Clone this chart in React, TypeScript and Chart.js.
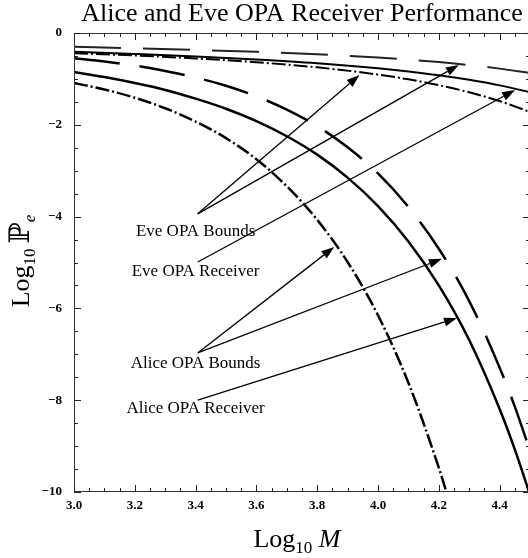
import React, { useEffect, useRef } from "react";
import { Chart, registerables } from "chart.js";

Chart.register(...registerables);

// ---------- text ----------
const titleText = "Alice and Eve OPA Receiver Performance";
const annotationLabels = ["Eve OPA Bounds", "Eve OPA Receiver", "Alice OPA Bounds", "Alice OPA Receiver"];

// ---------- ticks ----------
const xTicks = [3.0, 3.2, 3.4, 3.6, 3.8, 4.0, 4.2, 4.4];
const xMinorTicks = [3.05, 3.1, 3.15, 3.25, 3.3, 3.35, 3.45, 3.5, 3.55, 3.65, 3.7, 3.75, 3.85, 3.9, 3.95, 4.05, 4.1, 4.15, 4.25, 4.3, 4.35, 4.45];
const yTicks = [0, -2, -4, -6, -8, -10];
const yMinorTicks = [-0.5, -1, -1.5, -2.5, -3, -3.5, -4.5, -5, -5.5, -6.5, -7, -7.5, -8.5, -9, -9.5];

// ---------- series (Log10 M, Log10 Pe) ----------
// Eve OPA bounds (upper, dashed)
const eveBoundUpperX = [3.0, 3.2, 3.4, 3.6, 3.8, 4.0, 4.2, 4.3, 4.4, 4.5];
const eveBoundUpperY = [-0.3, -0.332, -0.368, -0.411, -0.465, -0.536, -0.634, -0.698, -0.776, -0.87];
// Eve OPA receiver (solid)
const eveReceiverX = [3.0, 3.2, 3.4, 3.6, 3.8, 4.0, 4.1, 4.2, 4.3, 4.4, 4.5];
const eveReceiverY = [-0.41, -0.457, -0.51, -0.576, -0.658, -0.767, -0.837, -0.92, -1.02, -1.141, -1.29];
// Eve OPA bounds (lower, dash-dot)
const eveBoundLowerX = [3.0, 3.2, 3.4, 3.6, 3.8, 4.0, 4.1, 4.2, 4.3, 4.4, 4.5];
const eveBoundLowerY = [-0.44, -0.49, -0.555, -0.637, -0.748, -0.906, -1.01, -1.137, -1.292, -1.483, -1.72];
// Alice OPA bounds (upper, long dashes)
const aliceBoundUpperX = [3.0, 3.1, 3.2, 3.3, 3.4, 3.5, 3.6, 3.7, 3.8, 3.9, 4.0, 4.1, 4.2, 4.3, 4.4, 4.45, 4.5];
const aliceBoundUpperY = [-0.55, -0.62, -0.71, -0.83, -0.97, -1.15, -1.38, -1.67, -2.03, -2.49, -3.06, -3.79, -4.7, -5.84, -7.29, -8.14, -9.1];
// Alice OPA receiver (solid)
const aliceReceiverX = [3.0, 3.1, 3.2, 3.3, 3.4, 3.5, 3.6, 3.7, 3.8, 3.9, 4.0, 4.1, 4.2, 4.3, 4.4, 4.45, 4.497];
const aliceReceiverY = [-0.85, -0.96, -1.09, -1.24, -1.43, -1.65, -1.92, -2.25, -2.65, -3.15, -3.77, -4.54, -5.5, -6.69, -8.19, -9.07, -10];
// Alice OPA bounds (lower, dash-dot)
const aliceBoundLowerX = [3.0, 3.1, 3.2, 3.3, 3.4, 3.5, 3.6, 3.7, 3.8, 3.9, 4.0, 4.1, 4.2, 4.225];
const aliceBoundLowerY = [-1.09, -1.23, -1.41, -1.64, -1.93, -2.29, -2.75, -3.34, -4.07, -4.99, -6.15, -7.62, -9.47, -10];

// ---------- annotations (data coordinates) ----------
const labelX = [3.4, 3.4, 3.4, 3.4];
const labelY = [-4.42, -5.29, -7.3, -8.28];
const arrowFromX = [3.407, 3.407, 3.407, 3.407, 3.407, 3.407];
const arrowFromY = [-3.94, -3.94, -4.99, -6.97, -6.97, -8.0];
const arrowToX = [3.939, 4.266, 4.451, 3.856, 4.21, 4.26];
const arrowToY = [-0.915, -0.697, -1.242, -4.66, -4.92, -6.21];

const SERIF = "'Liberation Serif', 'Times New Roman', 'DejaVu Serif', serif";

function pts(xs: number[], ys: number[]) {
  return xs.map((x, i) => ({ x, y: ys[i] }));
}

const decorPlugin = {
  id: "decor",
  afterDraw(chart: any) {
    const { ctx, chartArea: a, scales } = chart;
    const xs = scales.x;
    const ys = scales.y;
    ctx.save();

    // frame
    ctx.strokeStyle = "#333";
    ctx.lineWidth = 1;
    ctx.strokeRect(a.left + 0.5, a.top + 0.5, a.right - a.left - 1, a.bottom - a.top - 1);

    // ticks (inward on all sides)
    ctx.strokeStyle = "#222";
    ctx.lineWidth = 1;
    ctx.beginPath();
    const xt = (v: number, len: number) => {
      const px = Math.round(xs.getPixelForValue(v)) + 0.5;
      ctx.moveTo(px, a.bottom);
      ctx.lineTo(px, a.bottom - len);
      ctx.moveTo(px, a.top);
      ctx.lineTo(px, a.top + len);
    };
    const yt = (v: number, len: number) => {
      const py = Math.round(ys.getPixelForValue(v)) + 0.5;
      ctx.moveTo(a.left, py);
      ctx.lineTo(a.left + len, py);
      ctx.moveTo(a.right, py);
      ctx.lineTo(a.right - len, py);
    };
    xTicks.forEach((v) => xt(v, 7));
    xMinorTicks.forEach((v) => xt(v, 4));
    yTicks.forEach((v) => yt(v, 7));
    yMinorTicks.forEach((v) => yt(v, 4));
    ctx.stroke();

    // arrows
    ctx.strokeStyle = "#000";
    ctx.fillStyle = "#000";
    ctx.lineWidth = 1.3;
    for (let i = 0; i < arrowFromX.length; i++) {
      const x0 = xs.getPixelForValue(arrowFromX[i]);
      const y0 = ys.getPixelForValue(arrowFromY[i]);
      const x1 = xs.getPixelForValue(arrowToX[i]);
      const y1 = ys.getPixelForValue(arrowToY[i]);
      const ang = Math.atan2(y1 - y0, x1 - x0);
      const hl = 13;
      const hw = 4.5;
      const bx = x1 - hl * Math.cos(ang);
      const by = y1 - hl * Math.sin(ang);
      ctx.beginPath();
      ctx.moveTo(x0, y0);
      ctx.lineTo(bx, by);
      ctx.stroke();
      ctx.beginPath();
      ctx.moveTo(x1, y1);
      ctx.lineTo(bx + hw * Math.sin(ang), by - hw * Math.cos(ang));
      ctx.lineTo(bx - hw * Math.sin(ang), by + hw * Math.cos(ang));
      ctx.closePath();
      ctx.fill();
    }

    // annotation labels
    ctx.font = `17px ${SERIF}`;
    ctx.textAlign = "center";
    ctx.textBaseline = "alphabetic";
    annotationLabels.forEach((t, i) => {
      ctx.fillText(t, xs.getPixelForValue(labelX[i]), ys.getPixelForValue(labelY[i]));
    });

    // title
    ctx.font = `26px ${SERIF}`;
    ctx.textAlign = "center";
    ctx.fillText(titleText, 302, 21);

    const drawRich = (parts: { t: string; f: string; dy: number }[], cx: number, cy: number) => {
      ctx.textAlign = "left";
      let w = 0;
      parts.forEach((p) => {
        ctx.font = p.f;
        w += ctx.measureText(p.t).width;
      });
      let x = cx - w / 2;
      parts.forEach((p) => {
        ctx.font = p.f;
        ctx.fillText(p.t, x, cy + p.dy);
        x += ctx.measureText(p.t).width;
      });
    };

    // x axis title: Log10 M
    drawRich(
      [
        { t: "Log", f: `26px ${SERIF}`, dy: 0 },
        { t: "10", f: `17px ${SERIF}`, dy: 6 },
        { t: " ", f: `26px ${SERIF}`, dy: 0 },
        { t: "M", f: `italic 26px ${SERIF}`, dy: 0 },
      ],
      297,
      547
    );

    // y axis title: Log10 Pe (rotated)
    ctx.save();
    ctx.translate(29, 261);
    ctx.rotate(-Math.PI / 2);
    drawRich(
      [
        { t: "Log", f: `26px ${SERIF}`, dy: 0 },
        { t: "10", f: `17px ${SERIF}`, dy: 6 },
        { t: "\u2009", f: `26px ${SERIF}`, dy: 0 },
        { t: "\u2119", f: `28px ${SERIF}`, dy: 0 },
        { t: "e", f: `italic 17px ${SERIF}`, dy: 6 },
      ],
      0,
      0
    );
    ctx.restore();

    ctx.restore();
  },
};

export default function App() {
  const ref = useRef<HTMLCanvasElement | null>(null);

  useEffect(() => {
    const canvas = ref.current;
    if (!canvas) return;
    const base = { pointRadius: 0, borderColor: "#000", fill: false, cubicInterpolationMode: "monotone" as const };
    const chart = new Chart(canvas, {
      type: "line",
      data: {
        datasets: [
          { ...base, label: "Eve OPA Bounds (upper)", data: pts(eveBoundUpperX, eveBoundUpperY), borderWidth: 2, borderColor: "#222", borderDash: [47, 22] },
          { ...base, label: "Eve OPA Receiver", data: pts(eveReceiverX, eveReceiverY), borderWidth: 2 },
          { ...base, label: "Eve OPA Bounds (lower)", data: pts(eveBoundLowerX, eveBoundLowerY), borderWidth: 2, borderDash: [14, 3, 2, 3] },
          { ...base, label: "Alice OPA Bounds (upper)", data: pts(aliceBoundUpperX, aliceBoundUpperY), borderWidth: 2.5, borderDash: [46, 20] },
          { ...base, label: "Alice OPA Receiver", data: pts(aliceReceiverX, aliceReceiverY), borderWidth: 2.5 },
          { ...base, label: "Alice OPA Bounds (lower)", data: pts(aliceBoundLowerX, aliceBoundLowerY), borderWidth: 2.5, borderDash: [14, 3, 2, 3] },
        ],
      },
      options: {
        responsive: false,
        animation: false,
        devicePixelRatio: 1,
        layout: { padding: { left: 0, top: 33, right: 1, bottom: 0 } },
        plugins: { legend: { display: false }, title: { display: false }, tooltip: { enabled: false } },
        scales: {
          x: {
            type: "linear",
            min: 3,
            max: 4.5,
            afterBuildTicks: (s: any) => {
              s.ticks = xTicks.map((v) => ({ value: v }));
            },
            afterFit: (s: any) => {
              s.height = 66;
            },
            grid: { display: false, drawTicks: false },
            border: { display: false },
            ticks: {
              autoSkip: false,
              maxRotation: 0,
              padding: 6,
              color: "#000",
              font: { family: SERIF, size: 13, weight: "bold" },
              callback: (v: any) => Number(v).toFixed(1),
            },
          },
          y: {
            type: "linear",
            min: -10,
            max: 0,
            afterBuildTicks: (s: any) => {
              s.ticks = yTicks.map((v) => ({ value: v }));
            },
            afterFit: (s: any) => {
              s.width = 74;
            },
            grid: { display: false, drawTicks: false },
            border: { display: false },
            ticks: {
              autoSkip: false,
              padding: 12,
              color: "#000",
              font: { family: SERIF, size: 13, weight: "bold" },
              callback: (v: any) => (Number(v) === 0 ? "0" : "\u2212" + Math.abs(Number(v))),
            },
          },
        },
      },
      plugins: [decorPlugin],
    });
    return () => chart.destroy();
  }, []);

  return (
    <div style={{ position: "fixed", left: 0, top: 0, width: 528, height: 558, overflow: "hidden", background: "#fff" }}>
      <canvas ref={ref} width={531} height={558} style={{ width: 531, height: 558, display: "block" }} />
    </div>
  );
}
